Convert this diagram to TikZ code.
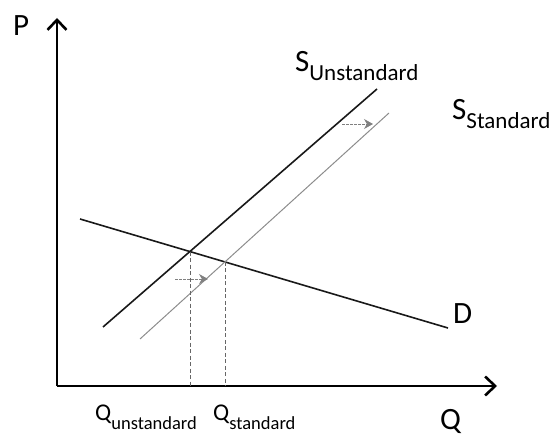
\documentclass[tikz,border=0pt]{standalone}
\usepackage{fontspec}
\setmainfont{Carlito}
\usetikzlibrary{arrows.meta, intersections}

\newcommand{\topsub}[2]{\fontsize{31}{31}\selectfont #1\raisebox{-9pt}{\fontsize{23}{23}\selectfont #2}}
\newcommand{\botsub}[2]{\fontsize{24}{24}\selectfont #1\raisebox{-9pt}{\fontsize{18.5}{18.5}\selectfont #2}}

\begin{document}
\begin{tikzpicture}[x=1pt, y=1pt,
  axis/.style={line width=1.8pt, -{Straight Barb[length=10pt, width=19pt, line width=2.6pt]}},
  curve/.style={line width=1.6pt, black!90},
  curvegray/.style={line width=1pt, black!45},
  guide/.style={line width=0.6pt, black!60, dash pattern=on 4pt off 2.5pt},
  shiftarrow/.style={line width=0.8pt, black!50, dash pattern=on 3pt off 1pt, -{Stealth[length=9pt, width=10pt]}},
  biglab/.style={font=\fontsize{31}{31}\selectfont, inner sep=0pt, anchor=base west},
  sublab/.style={inner sep=0pt, anchor=base west}]
  \useasboundingbox (0,0) rectangle (555,440);
  % Axes
  \coordinate (O) at (57,54);
  \coordinate (ptip) at (57,422);
  \coordinate (qtip) at (497,54);
  \draw[axis] (O) -- (ptip);
  \draw[axis] (O) -- (qtip);
  \node[biglab] (plab) at (13,404) {P};
  \node[biglab] (qlab) at (440,11) {Q};
  % Demand
  \coordinate (d1) at (80,221);
  \coordinate (d2) at (448,112);
  \draw[curve, name path=dem] (d1) -- (d2);
  \node[biglab] (dlab) at (453,117) {D};
  % Supply, unstandard
  \coordinate (su1) at (103,113);
  \coordinate (su2) at (377,351);
  \draw[curve, name path=sunst] (su1) -- (su2);
  \node[sublab] (sulab) at (295,368) {\topsub{S}{Unstandard}};
  % Supply, standard
  \coordinate (ss1) at (140,101);
  \coordinate (ss2) at (389,327);
  \draw[curvegray, name path=sstd] (ss1) -- (ss2);
  \node[sublab] (sslab) at (452,320) {\topsub{S}{Standard}};
  % Equilibria and quantities
  \path[name intersections={of=dem and sunst, by=eu}];
  \path[name intersections={of=dem and sstd, by=es}];
  \draw[guide] (eu) -- (eu |- O);
  \draw[guide] (es) -- (es |- O);
  \node[sublab] (qulab) at (95,20) {\botsub{Q}{unstandard}};
  \node[sublab] (qslab) at (213,20) {\botsub{Q}{standard}};
  % Shift arrows
  \coordinate (a1) at (175,161);
  \coordinate (a2) at (208,161);
  \coordinate (b1) at (342,316);
  \coordinate (b2) at (373,316);
  \draw[shiftarrow] (a1) -- (a2);
  \draw[shiftarrow] (b1) -- (b2);
\end{tikzpicture}
\end{document}
